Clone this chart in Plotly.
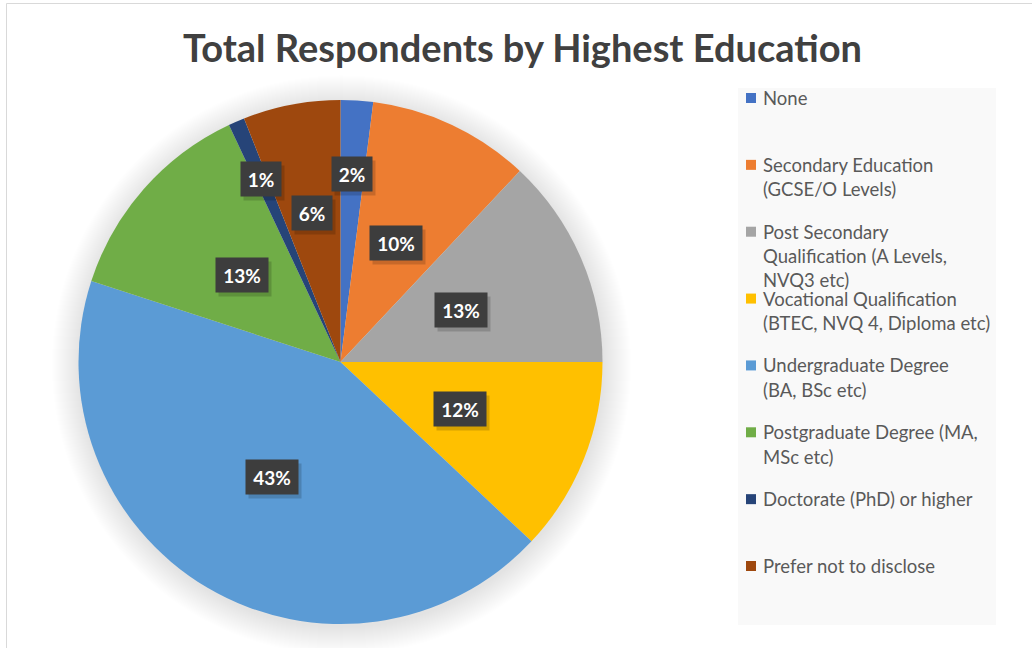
import math
import plotly.graph_objects as go

# ---- data -------------------------------------------------------------
categories = [
    "None",
    "Secondary Education (GCSE/O Levels)",
    "Post Secondary Qualification (A Levels, NVQ3 etc)",
    "Vocational Qualification (BTEC, NVQ 4, Diploma etc)",
    "Undergraduate Degree (BA, BSc etc)",
    "Postgraduate Degree (MA, MSc etc)",
    "Doctorate (PhD) or higher",
    "Prefer not to disclose",
]
# wrapped text lines for the legend entries
legend_lines = [
    ["None"],
    ["Secondary Education", "(GCSE/O Levels)"],
    ["Post Secondary", "Qualification (A Levels,", "NVQ3 etc)"],
    ["Vocational Qualification", "(BTEC, NVQ 4, Diploma etc)"],
    ["Undergraduate Degree", "(BA, BSc etc)"],
    ["Postgraduate Degree (MA,", "MSc etc)"],
    ["Doctorate (PhD) or higher"],
    ["Prefer not to disclose"],
]
percent = [2, 10, 13, 12, 43, 13, 1, 6]

# ---- style ------------------------------------------------------------
colors = ["#4472C4", "#ED7D31", "#A5A5A5", "#FFC000",
          "#5B9BD5", "#70AD47", "#264478", "#9E480E"]
# radial placement of each data label, as a fraction of the radius
label_radius = [0.72, 0.50, 0.50, 0.49, 0.51, 0.50, 0.76, 0.58]

W, H = 1032, 648
CX, CY, R = 340.5, 362.0, 262.0          # pie centre / radius in px
FONT = "Lato"


def px(x):
    return x / W


def py(y):
    return 1 - y / H


fig = go.Figure()
fig.add_trace(go.Pie(
    labels=categories,
    values=percent,
    marker=dict(colors=colors, line=dict(width=0)),
    sort=False,
    direction="clockwise",
    rotation=0,
    textinfo="none",
    hoverinfo="label+percent",
    showlegend=False,
    domain=dict(x=[px(CX - R), px(CX + R)], y=[py(CY + R), py(CY - R)]),
))

shapes = []
# chart-area frame
shapes.append(dict(type="rect", xref="paper", yref="paper",
                   x0=px(6.5), x1=px(W + 5), y0=py(H + 5), y1=py(3.5),
                   line=dict(color="#d9d9d9", width=1), fillcolor="rgba(0,0,0,0)",
                   layer="below"))
# soft shadow under the pie
for k in range(28, 0, -1):
    rr = R + k
    shapes.append(dict(type="circle", xref="paper", yref="paper",
                       xsizemode="pixel", ysizemode="pixel",
                       xanchor=px(CX + 1), yanchor=py(CY + 3),
                       x0=-rr, x1=rr, y0=-rr, y1=rr,
                       fillcolor="rgba(0,0,0,0.0045)", line=dict(width=0),
                       layer="below"))
# legend panel
shapes.append(dict(type="rect", xref="paper", yref="paper",
                   x0=px(738), x1=px(996), y0=py(625), y1=py(88),
                   fillcolor="#f9f9f9", line=dict(width=0), layer="below"))

annotations = []
# title
annotations.append(dict(
    text="Total Respondents by Highest Education",
    xref="paper", yref="paper", x=px(522), y=py(47),
    xanchor="center", yanchor="middle", showarrow=False,
    font=dict(family=FONT, size=38, weight="bold", color="#404040"),
))

# data labels in dark boxes, placed at each slice's mid-angle
total = sum(percent)
cum = 0.0
for v, rf in zip(percent, label_radius):
    theta = 2 * math.pi * (cum + v / 2) / total
    cum += v
    lx = CX + rf * R * math.sin(theta)
    ly = CY - rf * R * math.cos(theta)
    txt = f"{v}%"
    bw = 12 * len(txt) + 12
    # drop shadow
    annotations.append(dict(
        text=" ", xref="paper", yref="paper", x=px(lx), y=py(ly),
        xanchor="center", yanchor="middle",
        xshift=3, yshift=-4, showarrow=False, width=bw, height=30,
        bgcolor="rgba(0,0,0,0.16)", borderpad=2,
    ))
    annotations.append(dict(
        text=txt, xref="paper", yref="paper", x=px(lx), y=py(ly),
        xanchor="center", yanchor="middle",
        showarrow=False, width=bw, height=30, align="center",
        bgcolor="#3d3d3d", borderpad=2,
        font=dict(family=FONT, size=19, weight="bold", color="white"),
    ))

# legend entries
LEG_TOP, LEG_STEP, LINE_H = 98.0, 66.86, 24.3
for i, (lines, c) in enumerate(zip(legend_lines, colors)):
    y0 = LEG_TOP + i * LEG_STEP
    shapes.append(dict(type="rect", xref="paper", yref="paper",
                       x0=px(746), x1=px(756), y0=py(y0 + 5), y1=py(y0 - 5),
                       fillcolor=c, line=dict(width=0)))
    for j, line in enumerate(lines):
        annotations.append(dict(
            text=line, xref="paper", yref="paper",
            x=px(761), y=py(y0 + j * LINE_H),
            xanchor="left", yanchor="middle", showarrow=False,
            font=dict(family=FONT, size=18.5, color="#595959"),
        ))

fig.update_layout(
    width=W, height=H,
    margin=dict(l=0, r=0, t=0, b=0),
    paper_bgcolor="white",
    plot_bgcolor="white",
    shapes=shapes,
    annotations=annotations,
)

fig.write_html("out.html")
